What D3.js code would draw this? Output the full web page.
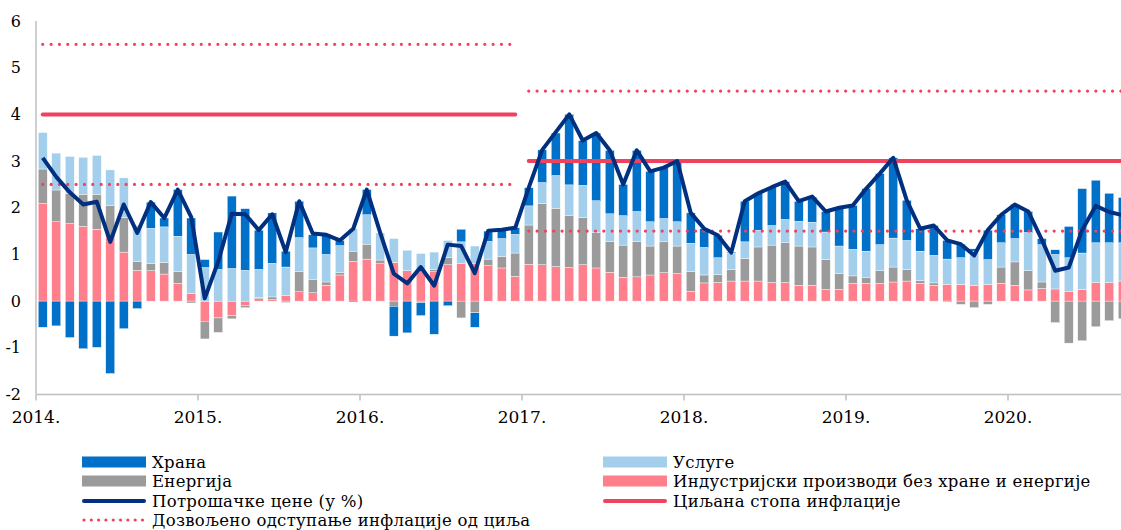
<!DOCTYPE html>
<html>
<head>
<meta charset="utf-8">
<script src="https://cdn.jsdelivr.net/npm/d3@7"></script>
<style>
  body { margin: 0; background: #fff; }
  svg { display: block; font-family: "DejaVu Serif", serif; }
</style>
</head>
<body>
<div id="chart"></div>
<script>
// contributions to y-o-y CPI, Jan 2014 .. Sep 2020 (p.p.)
const industrial = [2.09,1.70,1.66,1.60,1.54,1.37,1.05,0.66,0.65,0.58,0.38,0.16,
  -0.43,-0.36,-0.31,-0.09,0.05,0.03,0.12,0.20,0.18,0.34,0.56,0.85,
  0.90,0.80,0.83,0.65,0.66,0.63,0.78,0.80,0.81,0.76,0.71,0.53,
  0.79,0.78,0.74,0.72,0.78,0.71,0.62,0.51,0.52,0.56,0.61,0.59,
  0.21,0.39,0.40,0.43,0.43,0.43,0.40,0.40,0.34,0.34,0.25,0.25,
  0.38,0.38,0.38,0.41,0.43,0.38,0.34,0.36,0.36,0.34,0.36,0.38,
  0.34,0.24,0.27,0.26,0.20,0.25,0.40,0.40,0.43];
const energy = [0.74,0.68,0.65,0.69,0.75,0.68,0.74,0.19,0.15,0.25,0.25,-0.04,
  -0.38,-0.31,-0.07,-0.05,0.03,0.06,-0.03,0.44,0.29,0.07,0.05,0.22,
  0.32,0.08,-0.11,0.00,-0.03,0.05,0.15,-0.36,-0.25,0.14,0.25,0.50,
  0.84,1.31,1.25,1.12,1.01,0.76,0.66,0.69,0.76,0.62,0.66,0.59,
  0.42,0.17,0.17,0.25,0.48,0.73,0.80,0.85,0.84,0.82,0.64,0.34,
  0.16,0.12,0.27,0.32,0.25,0.06,0.05,-0.02,-0.07,-0.14,-0.07,0.35,
  0.50,0.41,0.14,-0.46,-0.90,-0.85,-0.55,-0.42,-0.38];
const services = [0.78,0.79,0.79,0.79,0.83,0.76,0.85,0.77,0.76,0.76,0.76,0.84,
  0.72,0.68,0.70,0.66,0.60,0.72,0.61,0.72,0.67,0.59,0.58,0.48,
  0.63,0.58,0.51,0.44,0.36,0.37,0.37,0.47,0.37,0.38,0.38,0.40,
  0.41,0.45,0.70,0.65,0.69,0.68,0.59,0.63,0.64,0.52,0.50,0.52,
  0.61,0.59,0.36,0.35,0.36,0.36,0.42,0.50,0.53,0.53,0.59,0.59,
  0.57,0.57,0.56,0.62,0.62,0.63,0.59,0.54,0.57,0.73,0.53,0.52,
  0.50,0.82,0.80,0.74,0.73,0.78,0.85,0.85,0.82];
const food = [-0.56,-0.53,-0.78,-1.02,-0.99,-1.55,-0.59,-0.16,0.56,0.19,1.00,0.78,
  0.17,0.80,1.55,1.32,0.84,1.08,0.34,0.78,0.28,0.43,0.11,-0.02,
  0.54,0.00,-0.64,-0.68,-0.28,-0.71,-0.10,0.27,-0.31,0.22,0.19,0.14,
  0.39,0.70,0.91,1.51,0.96,1.45,1.36,0.67,1.31,1.08,1.09,1.30,
  0.65,0.40,0.48,0.02,0.87,0.78,0.82,0.81,0.43,0.54,0.44,0.80,
  0.94,1.34,1.52,1.72,0.86,0.48,0.64,0.40,0.29,0.05,0.63,0.60,
  0.73,0.45,0.13,0.10,0.67,1.38,1.34,1.06,0.97];
const cpi = [3.07,2.66,2.33,2.07,2.13,1.27,2.07,1.46,2.12,1.78,2.39,1.80,
  0.06,0.85,1.87,1.86,1.52,1.86,1.05,2.14,1.45,1.42,1.30,1.55,
  2.39,1.46,0.59,0.38,0.73,0.33,1.21,1.18,0.60,1.51,1.53,1.57,
  2.43,3.24,3.62,4.00,3.44,3.60,3.23,2.50,3.23,2.78,2.86,3.00,
  1.89,1.55,1.41,1.04,2.14,2.31,2.44,2.56,2.14,2.24,1.92,2.00,
  2.05,2.41,2.73,3.07,2.16,1.55,1.62,1.30,1.22,0.98,1.52,1.85,
  2.07,1.92,1.32,0.65,0.72,1.53,2.04,1.91,1.84];

// target corridor: [first month, last month, value]
const target = [[0, 35, 4], [36, 84, 3]];
const bandLow = [[0, 35, 2.5], [36, 84, 1.5]];
const bandHigh = [[0, 35, 5.5], [36, 84, 4.5]];

const yearLabels = ["2014.", "2015.", "2016.", "2017.", "2018.", "2019.", "2020."];
const yTicks = [-2, -1, 0, 1, 2, 3, 4, 5, 6];

const keys = ["industrial", "energy", "services", "food"];
const colors = { industrial: "#FF808C", energy: "#9B9B9B", services: "#A3CFEC", food: "#0070C8" };
const cpiColor = "#00307F", targetColor = "#F0415E";

const months = d3.range(cpi.length);
const table = months.map(i => ({ i, industrial: industrial[i], energy: energy[i], services: services[i], food: food[i] }));

const width = 1121, height = 530;
const step = 13.5;
const x = d3.scaleBand()
  .domain(months)
  .range([36, 36 + step * months.length])
  .paddingInner(1 / 3)
  .paddingOuter(1 / 6);
const y = d3.scaleLinear().domain([-2, 6]).range([394.5, 21]);
const cx = i => x(i) + x.bandwidth() / 2;
// for segments that run past the last month
const cxAny = i => 36 + (i + 0.5) * step;

const svg = d3.select("#chart").append("svg")
  .attr("width", width)
  .attr("height", height);

// bars
const series = d3.stack().keys(keys).offset(d3.stackOffsetDiverging)(table);
svg.append("g").selectAll("g")
  .data(series)
  .enter().append("g")
  .attr("fill", d => colors[d.key])
  .selectAll("rect")
  .data(d => d)
  .enter().append("rect")
  .attr("x", d => x(d.data.i))
  .attr("width", x.bandwidth())
  .attr("y", d => y(Math.max(d[0], d[1])))
  .attr("height", d => Math.abs(y(d[0]) - y(d[1])))
  .attr("stroke", "#fff")
  .attr("stroke-width", 0.4);

// axes
const ax = svg.append("g").attr("stroke", "#BFBFBF").attr("stroke-width", 1.5);
ax.append("line").attr("x1", 36).attr("x2", 36).attr("y1", y(6)).attr("y2", y(-2));
ax.append("line").attr("x1", 36).attr("x2", width).attr("y1", y(-2)).attr("y2", y(-2));
yearLabels.forEach((lab, k) => {
  const tx = x(k * 12) - x.step() * x.paddingInner() / 2;
  ax.append("line").attr("x1", tx).attr("x2", tx).attr("y1", y(-2)).attr("y2", y(-2) + 6);
  svg.append("text").attr("x", tx).attr("y", 423)
    .attr("text-anchor", "middle").attr("font-size", 17).attr("fill", "#000").text(lab);
});
svg.append("g").selectAll("text")
  .data(yTicks)
  .enter().append("text")
  .attr("x", 21)
  .attr("y", d => y(d) + 5.5)
  .attr("text-anchor", "end")
  .attr("font-size", 16)
  .text(d => d);

// corridor and target
const seg = (data, dotted) => svg.append("g").selectAll("line")
  .data(data)
  .enter().append("line")
  .attr("x1", d => cxAny(d[0]))
  .attr("x2", d => cxAny(d[1]))
  .attr("y1", d => y(d[2]))
  .attr("y2", d => y(d[2]))
  .attr("stroke", targetColor)
  .attr("stroke-linecap", "round")
  .attr("stroke-width", dotted ? 3.2 : 4)
  .attr("stroke-dasharray", dotted ? "0.01 8.33" : null);
seg(bandHigh, true);
seg(bandLow, true);
seg(target, false);

// CPI line
svg.append("path")
  .datum(cpi)
  .attr("fill", "none")
  .attr("stroke", cpiColor)
  .attr("stroke-width", 4)
  .attr("stroke-linejoin", "round")
  .attr("d", d3.line().x((d, i) => cx(i)).y(d => y(d)));

// legend
const legend = [
  { label: "Храна", type: "bar", color: colors.food, col: 0, row: 0 },
  { label: "Услуге", type: "bar", color: colors.services, col: 1, row: 0 },
  { label: "Енергија", type: "bar", color: colors.energy, col: 0, row: 1 },
  { label: "Индустријски производи без хране и енергије", type: "bar", color: colors.industrial, col: 1, row: 1 },
  { label: "Потрошачке цене (у %)", type: "line", color: cpiColor, col: 0, row: 2 },
  { label: "Циљана стопа инфлације", type: "line", color: targetColor, col: 1, row: 2 },
  { label: "Дозвољено одступање инфлације од циља", type: "dot", color: targetColor, col: 0, row: 3 }
];
const colX = [82, 603], rowY = [462, 481, 501, 520];
const lg = svg.append("g").selectAll("g")
  .data(legend)
  .enter().append("g")
  .attr("transform", d => `translate(${colX[d.col]},${rowY[d.row]})`);
lg.filter(d => d.type === "bar").append("rect")
  .attr("x", 0).attr("y", -5.5).attr("width", 64).attr("height", 11)
  .attr("fill", d => d.color);
lg.filter(d => d.type !== "bar").append("line")
  .attr("x1", 2).attr("x2", 62).attr("y1", 0).attr("y2", 0)
  .attr("stroke", d => d.color)
  .attr("stroke-linecap", "round")
  .attr("stroke-width", d => d.type === "dot" ? 3.2 : 4)
  .attr("stroke-dasharray", d => d.type === "dot" ? "0.01 7.3" : null);
lg.append("text")
  .attr("x", 70).attr("y", 6)
  .attr("font-size", 16.5)
  .attr("letter-spacing", 0.3)
  .text(d => d.label);
</script>
</body>
</html>
